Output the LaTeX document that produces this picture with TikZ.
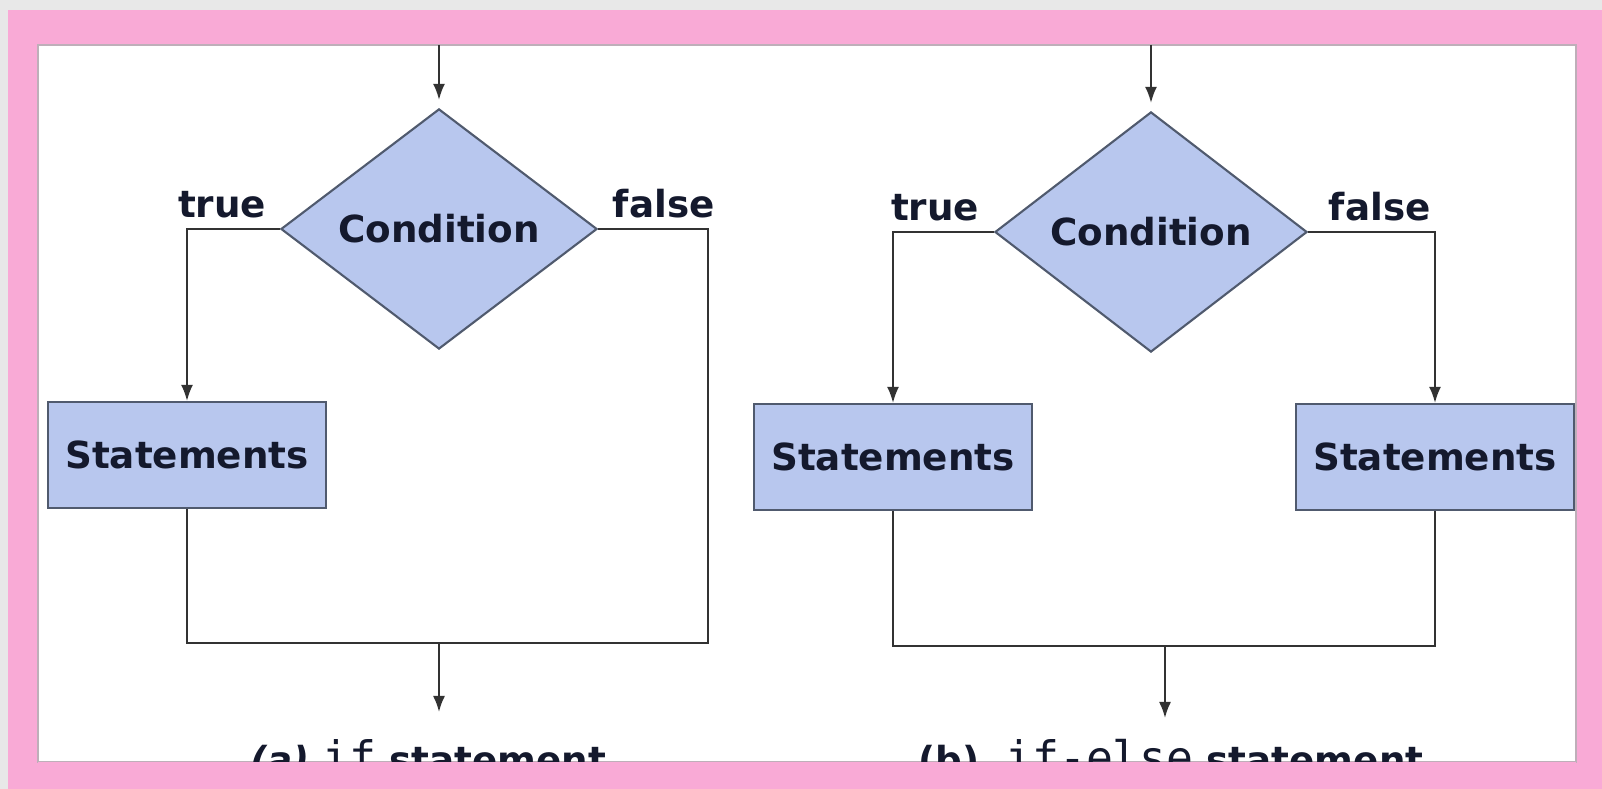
\documentclass[tikz,border=0pt]{standalone}
\usepackage{fontspec}
\setmainfont{DejaVu Sans}
\setmonofont[Scale=1.2]{DejaVu Sans Mono}
\usetikzlibrary{shapes.geometric,positioning,arrows.meta}
\definecolor{framepink}{RGB}{249,170,214}
\definecolor{pagegray}{RGB}{232,232,232}
\definecolor{edgegray}{RGB}{190,175,185}
\definecolor{shapefill}{RGB}{184,199,238}
\definecolor{shapeline}{RGB}{80,90,110}
\definecolor{wirecol}{RGB}{50,50,50}
\definecolor{ink}{RGB}{20,25,45}
\tikzset{
  txt/.style={font=\fontsize{10.6}{13}\selectfont\bfseries, text=ink},
  cond/.style={txt, diamond, draw=shapeline, fill=shapefill, line width=0.6pt,
    inner sep=0pt, minimum width=3.16cm, minimum height=2.4cm},
  stmt/.style={txt, rectangle, draw=shapeline, fill=shapefill, line width=0.6pt,
    minimum width=2.78cm, minimum height=1.06cm},
  lbl/.style={txt, inner sep=0pt},
  caption/.style={txt, inner sep=0pt, anchor=base},
  wire/.style={draw=wirecol, line width=0.55pt},
  arr/.style={wire, -{Latex[length=0.16cm,width=0.12cm]}},
}
\begin{document}
\begin{tikzpicture}[x=0.01cm, y=-0.01cm]
    \useasboundingbox (0,0) rectangle (1602,789);
    % frame
    \fill[pagegray] (0,0) rectangle (1602,789);
    \fill[framepink] (8,10) rectangle (1602,789);
    \fill[white] (38,45) rectangle (1576,762);
    \draw[edgegray, line width=0.7pt] (38,45) rectangle (1576,762);

    % (a) if statement
    \node (conda) [cond] at (439,229) {Condition};
    \node (stmta) [stmt] at (187,455) {Statements};
    \node (truea) [lbl, above left=0.1cm and 0.13cm of conda.west] {true};
    \node (falsea) [lbl, above right=0.1cm and 0.14cm of conda.east] {false};
    \coordinate (ina) at (439,45);
    \coordinate (ra) at (708,643);
    \coordinate (ja) at (439,643);
    \coordinate (outa) at (439,712);
    \draw[arr, shorten >=0.08cm] (ina) -- (conda.north);
    \draw[arr] (conda.west) -| (stmta.north);
    \draw[wire] (conda.east) -| (ra) |- (ja) -| (stmta.south);
    \draw[arr] (ja) -- (outa);
    \node (capa) [caption] at (428,774) {{\itshape (a)}\ {\mdseries\ttfamily if}\ statement};

    % (b) if-else statement
    \node (condb) [cond, minimum width=3.12cm] at (1151,232) {Condition};
    \node (stmtb1) [stmt] at (893,457) {Statements};
    \node (stmtb2) [stmt] at (1435,457) {Statements};
    \node (trueb) [lbl, above left=0.1cm and 0.14cm of condb.west] {true};
    \node (falseb) [lbl, above right=0.1cm and 0.2cm of condb.east] {false};
    \coordinate (inb) at (1151,45);
    \coordinate (jb) at (1165,646);
    \coordinate (outb) at (1165,718);
    \draw[arr, shorten >=0.08cm] (inb) -- (condb.north);
    \draw[arr] (condb.west) -| (stmtb1.north);
    \draw[arr] (condb.east) -| (stmtb2.north);
    \draw[wire] (stmtb1.south) |- (jb) -| (stmtb2.south);
    \draw[arr] (jb) -- (outb);
    \node (capb) [caption] at (1171,774) {(b)\ \ {\mdseries\ttfamily if-else}\ statement};

    % bottom strip of the frame over the captions
    \fill[framepink] (38,762) rectangle (1576,789);
\end{tikzpicture}
\end{document}
